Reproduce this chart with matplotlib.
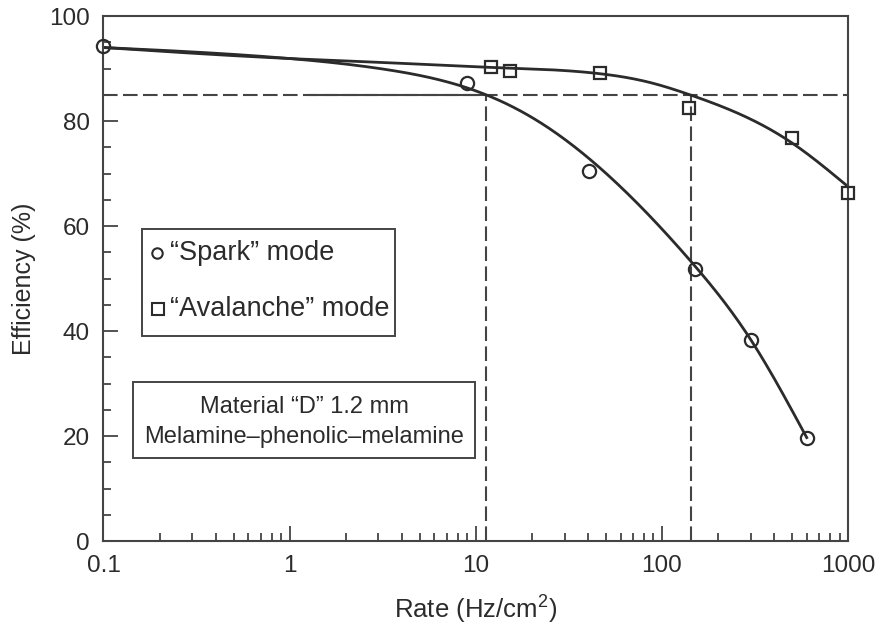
import numpy as np
import matplotlib
matplotlib.use("Agg")
import matplotlib.pyplot as plt
from matplotlib.patches import Rectangle
from matplotlib.ticker import FixedLocator, NullFormatter

plt.rcParams['font.family'] = ['Liberation Sans', 'DejaVu Sans']
plt.rcParams['mathtext.fontset'] = 'custom'
plt.rcParams['mathtext.rm'] = 'Liberation Sans'
plt.rcParams['mathtext.it'] = 'Liberation Sans:italic'
plt.rcParams['mathtext.bf'] = 'Liberation Sans:bold'

# Measured points
spark_rate = [0.1, 9, 40.5, 150, 300, 600]
spark_eff = [94.3, 87.3, 70.4, 51.8, 38.2, 19.7]

aval_rate = [12, 15.3, 46.5, 140, 500, 1000]
aval_eff = [90.2, 89.5, 89.1, 82.4, 76.8, 66.2]

# Points on the fitted curves (log10 rate, efficiency)
spark_fit_logx = [-1.0, 0.0, 0.52, 1.055, 1.36, 2.15, 2.48, 2.778]
spark_fit_eff = [94.0, 91.9, 89.8, 85.0, 79.4, 53.5, 38.2, 19.7]

aval_fit_logx = [-1.0, 0.0, 0.53, 1.09, 1.67, 1.94, 2.15, 2.70, 3.0]
aval_fit_eff = [94.0, 91.9, 91.1, 90.2, 89.0, 87.3, 85.0, 75.8, 67.5]

# 85 % efficiency reference and the rates where each curve reaches it
eff_ref = 85
rate_ref = [11.35, 143]

x_ticks = [0.1, 1, 10, 100, 1000]
x_ticklabels = ['0.1', '1', '10', '100', '1000']
y_ticks = [0, 20, 40, 60, 80, 100]

INK = '#2b2b2b'


def natural_spline(xk, yk, n=500):
    """Natural cubic spline in log10(rate) through the curve points."""
    xk = np.asarray(xk, float)
    yk = np.asarray(yk, float)
    m = len(xk)
    h = np.diff(xk)
    A = np.zeros((m, m))
    b = np.zeros(m)
    A[0, 0] = A[-1, -1] = 1.0
    for i in range(1, m - 1):
        A[i, i - 1] = h[i - 1]
        A[i, i] = 2 * (h[i - 1] + h[i])
        A[i, i + 1] = h[i]
        b[i] = 3 * ((yk[i + 1] - yk[i]) / h[i] - (yk[i] - yk[i - 1]) / h[i - 1])
    c = np.linalg.solve(A, b)
    xs = np.linspace(xk[0], xk[-1], n)
    idx = np.clip(np.searchsorted(xk, xs) - 1, 0, m - 2)
    dx = xs - xk[idx]
    hi = h[idx]
    bi = (yk[idx + 1] - yk[idx]) / hi - hi * (2 * c[idx] + c[idx + 1]) / 3
    di = (c[idx + 1] - c[idx]) / (3 * hi)
    return 10 ** xs, yk[idx] + bi * dx + c[idx] * dx ** 2 + di * dx ** 3


fig = plt.figure(figsize=(8.77, 6.28), dpi=100)
ax = fig.add_axes([0.1180, 0.1385, 0.8490, 0.8360])

ax.set_xscale('log')
ax.set_xlim(0.1, 1000)
ax.set_ylim(0, 100)

# reference lines
dash = (0, (7, 2.6))
ax.plot([0.1, 1000], [eff_ref, eff_ref], color='#444444', lw=1.5, ls=dash, zorder=1)
ax.plot([1.27, rate_ref[0]], [eff_ref, eff_ref], color='#444444', lw=1.5, zorder=1)
for r in rate_ref:
    ax.plot([r, r], [0, eff_ref], color='#444444', lw=1.5, ls=dash, zorder=1)

# fitted curves
fx, fy = natural_spline(spark_fit_logx, spark_fit_eff)
ax.plot(fx, fy, color=INK, lw=2.0, zorder=2, clip_on=False)
fx, fy = natural_spline(aval_fit_logx, aval_fit_eff)
ax.plot(fx, fy, color=INK, lw=2.0, zorder=2, clip_on=False)

# data markers
ax.plot(spark_rate, spark_eff, ls='none', marker='o', ms=9.5, mfc='none',
        mec=INK, mew=1.6, zorder=3, clip_on=False)
ax.plot(aval_rate, aval_eff, ls='none', marker='s', ms=8.5, mfc='none',
        mec=INK, mew=1.6, zorder=3, clip_on=False)

# legend box
ax.add_patch(Rectangle((0.052, 0.391), 0.340, 0.203, transform=ax.transAxes,
                       fill=False, ec='#444444', lw=1.4, zorder=4))
ax.plot([0.072], [0.549], transform=ax.transAxes, marker='o', ms=7.5,
        mfc='none', mec=INK, mew=1.5, zorder=5)
ax.plot([0.073], [0.442], transform=ax.transAxes, marker='s', ms=8,
        mfc='none', mec=INK, mew=1.5, zorder=5)
ax.text(0.089, 0.549, '\u201cSpark\u201d mode', transform=ax.transAxes,
        fontsize=19.5, color=INK, va='center', ha='left')
ax.text(0.089, 0.442, '\u201cAvalanche\u201d mode', transform=ax.transAxes,
        fontsize=19.5, color=INK, va='center', ha='left')

# material box
ax.add_patch(Rectangle((0.040, 0.159), 0.459, 0.143, transform=ax.transAxes,
                       fill=False, ec='#444444', lw=1.4, zorder=4))
ax.text(0.270, 0.256, 'Material \u201cD\u201d 1.2 mm', transform=ax.transAxes,
        fontsize=17, color=INK, va='center', ha='center')
ax.text(0.270, 0.199, 'Melamine\u2013phenolic\u2013melamine', transform=ax.transAxes,
        fontsize=17, color=INK, va='center', ha='center')

# axes styling
for side in ['left', 'right', 'top', 'bottom']:
    ax.spines[side].set_color('#444444')
    ax.spines[side].set_linewidth(1.5)

ax.xaxis.set_major_locator(FixedLocator(x_ticks))
ax.set_xticklabels(x_ticklabels)
minor = [m * d for d in [0.1, 1, 10, 100] for m in range(2, 10)]
ax.xaxis.set_minor_locator(FixedLocator(minor))
ax.xaxis.set_minor_formatter(NullFormatter())
ax.yaxis.set_major_locator(FixedLocator(y_ticks))
ax.yaxis.set_minor_locator(FixedLocator(np.arange(0, 101, 5)))

ax.tick_params(which='both', direction='in', top=False, right=False,
               color='#444444', width=1.3, labelcolor=INK, labelsize=17.5)
ax.tick_params(which='major', length=11)
ax.tick_params(which='minor', length=6)
ax.tick_params(axis='x', which='major', pad=10)
ax.tick_params(axis='y', which='major', pad=10)

ax.set_xlabel('Rate (Hz/cm$^{2}$)', fontsize=18.5, color=INK, labelpad=12)
ax.set_ylabel('Efficiency (%)', fontsize=18, color=INK, labelpad=9)

fig.savefig('out.png', dpi=100)
